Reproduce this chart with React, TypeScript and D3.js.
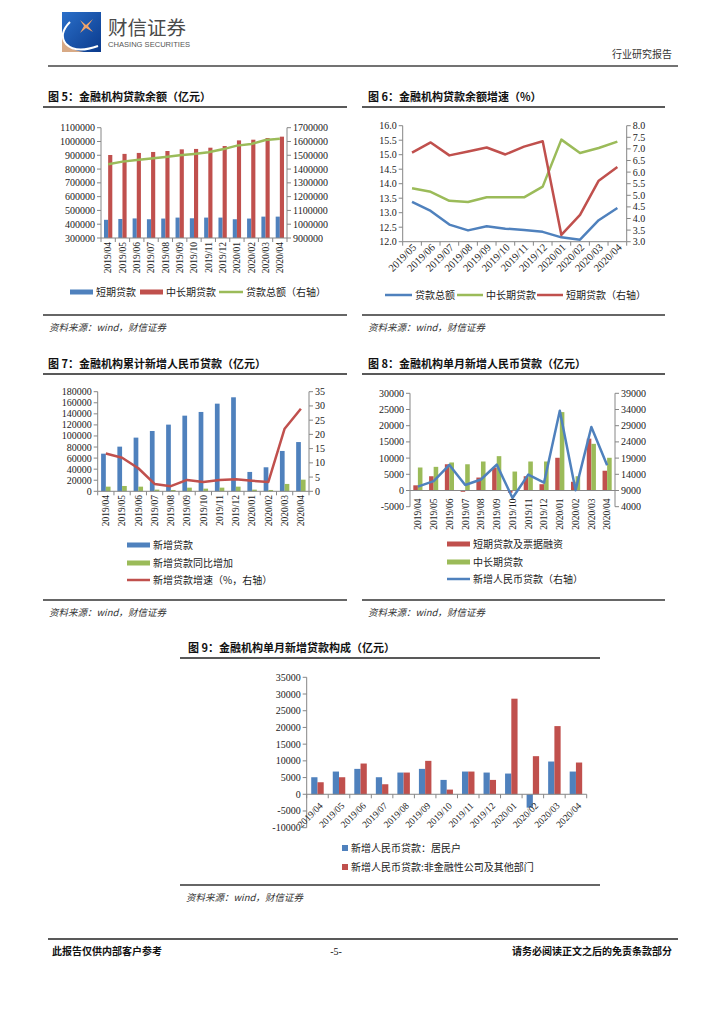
import React from 'react'
import * as d3 from 'd3'

const serif = '"Liberation Serif", "Times New Roman", serif'
const cjk = '"Noto Sans CJK SC", "Noto Sans", sans-serif'
const AXIS = '#868686'
const BLUE = '#4F81BD'
const RED = '#C0504D'
const GREEN = '#9BBB59'

// categories
const months13 = ['2019/04', '2019/05', '2019/06', '2019/07', '2019/08', '2019/09', '2019/10', '2019/11', '2019/12', '2020/01', '2020/02', '2020/03', '2020/04']
const months12 = ['2019/05', '2019/06', '2019/07', '2019/08', '2019/09', '2019/10', '2019/11', '2019/12', '2020/01', '2020/02', '2020/03', '2020/04']

// fig 5
const f5Short = [432000, 438000, 442000, 436000, 441000, 448000, 443000, 448000, 448000, 436000, 441000, 455000, 455000]
const f5Long = [902000, 910000, 917000, 924000, 931000, 943000, 946000, 955000, 967000, 1008000, 1013000, 1025000, 1035000]
const f5Total = [1435000, 1454000, 1466000, 1476000, 1488000, 1500000, 1510000, 1522000, 1543000, 1570000, 1582000, 1611000, 1620000]
const f5LeftTicks = [300000, 400000, 500000, 600000, 700000, 800000, 900000, 1000000, 1100000]
const f5RightTicks = [900000, 1000000, 1100000, 1200000, 1300000, 1400000, 1500000, 1600000, 1700000]

// fig 6
const f6Total = [13.37, 13.06, 12.59, 12.39, 12.53, 12.45, 12.4, 12.34, 12.15, 12.07, 12.74, 13.16]
const f6Long = [13.84, 13.72, 13.41, 13.37, 13.53, 13.53, 13.53, 13.9, 15.52, 15.06, 15.23, 15.45]
const f6Short = [6.84, 7.28, 6.72, 6.89, 7.06, 6.76, 7.1, 7.33, 3.29, 4.16, 5.63, 6.22]
const f6LeftTicks = [12, 12.5, 13, 13.5, 14, 14.5, 15, 15.5, 16]
const f6RightTicks = [3, 3.5, 4, 4.5, 5, 5.5, 6, 6.5, 7, 7.5, 8]

// fig 7
const f7New = [68000, 80700, 97000, 109000, 120500, 136700, 143400, 158400, 169900, 35000, 43400, 72900, 89000]
const f7YoY = [8400, 9600, 8400, 3000, 2400, 6600, 4800, 6600, 8400, 3000, 2400, 13300, 21000]
const f7Growth = [13.3, 11.8, 8.1, 2.6, 1.8, 4.0, 3.3, 4.0, 4.2, 3.7, 3.3, 22.0, 29.0]
const f7LeftTicks = [0, 20000, 40000, 60000, 80000, 100000, 120000, 140000, 160000, 180000]
const f7RightTicks = [0, 5, 10, 15, 20, 25, 30, 35]

// fig 8
const f8Short = [1600, 4400, 8100, -400, 4000, 7100, -700, 4400, 1950, 10100, 2700, 16000, 6100]
const f8Long = [7100, 7300, 8650, 8100, 8950, 10600, 5850, 8950, 8950, 24200, 4400, 14400, 10100]
const f8New = [10200, 11900, 16900, 10700, 12400, 17000, 6700, 13900, 11400, 33600, 9100, 28600, 16800]
const f8LeftTicks = [-5000, 0, 5000, 10000, 15000, 20000, 25000, 30000]
const f8RightTicks = [4000, 9000, 14000, 19000, 24000, 29000, 34000, 39000]

// fig 9
const f9House = [5100, 6800, 7600, 5100, 6500, 7600, 4300, 6800, 6500, 6200, -4000, 9800, 6800]
const f9Corp = [3600, 5100, 9200, 3000, 6500, 10000, 1400, 6800, 4300, 28600, 11400, 20400, 9500]
const f9Ticks = [-10000, -5000, 0, 5000, 10000, 15000, 20000, 25000, 30000, 35000]

type Lin = d3.ScaleLinear<number, number>

function YAxis({ scale, x, ticks, side, fmt }: { scale: Lin; x: number; ticks: number[]; side: 'left' | 'right'; fmt: (v: number) => string }) {
  const [y0, y1] = scale.range()
  const dir = side === 'left' ? -1 : 1
  return (
    <g>
      <line x1={x} x2={x} y1={y0} y2={y1} stroke={AXIS} />
      {ticks.map((t) => (
        <g key={t} transform={`translate(${x},${scale(t)})`}>
          <line x2={dir * 4} stroke={AXIS} />
          <text x={dir * 6} dy="0.35em" textAnchor={side === 'left' ? 'end' : 'start'} fontFamily={serif} fontSize={10} fill="#222">
            {fmt(t)}
          </text>
        </g>
      ))}
    </g>
  )
}

function XAxis({ scale, y, tickDown = 4 }: { scale: d3.ScaleBand<string>; y: number; tickDown?: number }) {
  const [x0, x1] = scale.range()
  const n = scale.domain().length
  return (
    <g>
      <line x1={x0} x2={x1} y1={y} y2={y} stroke={AXIS} />
      {d3.range(n + 1).map((i) => (
        <line key={i} x1={x0 + i * scale.step()} x2={x0 + i * scale.step()} y1={y} y2={y + tickDown} stroke={AXIS} />
      ))}
    </g>
  )
}

function VLabels({ scale, y }: { scale: d3.ScaleBand<string>; y: number }) {
  return (
    <g>
      {scale.domain().map((m) => (
        <text key={m} transform={`translate(${(scale(m) || 0) + scale.bandwidth() / 2},${y}) rotate(-90)`} dy="0.35em" textAnchor="end" fontFamily={serif} fontSize={9.5} fill="#222">
          {m}
        </text>
      ))}
    </g>
  )
}

function DLabels({ scale, y, dx, size = 9.5 }: { scale: d3.ScaleBand<string>; y: number; dx: number; size?: number }) {
  return (
    <g>
      {scale.domain().map((m) => (
        <text key={m} transform={`translate(${(scale(m) || 0) + scale.bandwidth() / 2 + dx},${y}) rotate(-45)`} textAnchor="end" fontFamily={serif} fontSize={size} fill="#222">
          {m}
        </text>
      ))}
    </g>
  )
}

function Bars({ x, y, values, idx, color, zero }: { x: d3.ScaleBand<string>; y: Lin; values: number[]; idx: number; color: string; zero: number }) {
  const cats = x.domain()
  const group = x.bandwidth() * 0.58
  const bw = group / 2
  return (
    <g>
      {values.map((v, i) => {
        const cx = (x(cats[i]) || 0) + x.bandwidth() / 2
        const y0 = y(zero)
        const y1 = y(v)
        return <rect key={i} x={cx - group / 2 + idx * bw} y={Math.min(y0, y1)} width={bw} height={Math.abs(y1 - y0)} fill={color} />
      })}
    </g>
  )
}

function Line({ x, y, values, color, w = 2.5 }: { x: d3.ScaleBand<string>; y: Lin; values: number[]; color: string; w?: number }) {
  const cats = x.domain()
  const gen = d3
    .line<number>()
    .x((_, i) => (x(cats[i]) || 0) + x.bandwidth() / 2)
    .y((v) => y(v))
  return <path d={gen(values) || ''} fill="none" stroke={color} strokeWidth={w} strokeLinejoin="round" />
}

function Title({ x, y, x1, x2, text }: { x: number; y: number; x1: number; x2: number; text: string }) {
  return (
    <g>
      <text x={x} y={y} fontFamily={cjk} fontWeight={700} fontSize={11} fill="#111">
        {text}
      </text>
      <line x1={x1} x2={x2} y1={y + 6} y2={y + 6} stroke="#222" strokeWidth={1.3} />
    </g>
  )
}

function Source({ x1, x2, y }: { x1: number; x2: number; y: number }) {
  return (
    <g>
      <line x1={x1} x2={x2} y1={y} y2={y} stroke="#333" strokeWidth={1.3} />
      <text x={x1 + 6} y={y + 16} fontFamily={cjk} fontStyle="italic" fontSize={9.5} fill="#333">
        资料来源：wind，财信证券
      </text>
    </g>
  )
}

function LegendItem({ x, y, color, kind, text, w = 23 }: { x: number; y: number; color: string; kind: 'rect' | 'line' | 'sq'; text: string; w?: number }) {
  return (
    <g>
      {kind === 'rect' && <rect x={x} y={y - 2.5} width={w} height={5} fill={color} />}
      {kind === 'line' && <line x1={x} x2={x + w} y1={y} y2={y} stroke={color} strokeWidth={2.5} />}
      {kind === 'sq' && <rect x={x} y={y - 3} width={6} height={6} fill={color} />}
      <text x={x + (kind === 'sq' ? 9 : w + 3)} y={y} dy="0.35em" fontFamily={cjk} fontSize={10} fill="#222">
        {text}
      </text>
    </g>
  )
}

const fmtInt = (v: number) => String(v)
const fmt1 = (v: number) => v.toFixed(1)

function Fig5() {
  const x = d3.scaleBand().domain(months13).range([101, 287])
  const yl = d3.scaleLinear().domain([300000, 1100000]).range([238, 127.7])
  const yr = d3.scaleLinear().domain([900000, 1700000]).range([238, 127.7])
  return (
    <g>
      <Title x={48} y={101} x1={43} x2={347} text="图 5：金融机构贷款余额（亿元）" />
      <Bars x={x} y={yl} values={f5Short} idx={0} color={BLUE} zero={300000} />
      <Bars x={x} y={yl} values={f5Long} idx={1} color={RED} zero={300000} />
      <Line x={x} y={yr} values={f5Total} color={GREEN} />
      <YAxis scale={yl} x={101} ticks={f5LeftTicks} side="left" fmt={fmtInt} />
      <YAxis scale={yr} x={287} ticks={f5RightTicks} side="right" fmt={fmtInt} />
      <XAxis scale={x} y={238} />
      <VLabels scale={x} y={242} />
      <LegendItem x={70} y={292} color={BLUE} kind="rect" text="短期贷款" />
      <LegendItem x={140} y={292} color={RED} kind="rect" text="中长期贷款" />
      <LegendItem x={219} y={292} color={GREEN} kind="line" text="贷款总额（右轴）" w={24} />
      <Source x1={43} x2={347} y={315} />
    </g>
  )
}

function Fig6() {
  const x = d3.scaleBand().domain(months12).range([402.7, 626.7])
  const yl = d3.scaleLinear().domain([12, 16]).range([241.7, 125.7])
  const yr = d3.scaleLinear().domain([3, 8]).range([241.7, 125.7])
  return (
    <g>
      <Title x={368} y={101} x1={362} x2={665} text="图 6：金融机构贷款余额增速（%）" />
      <Line x={x} y={yl} values={f6Total} color={BLUE} />
      <Line x={x} y={yl} values={f6Long} color={GREEN} />
      <Line x={x} y={yr} values={f6Short} color={RED} />
      <YAxis scale={yl} x={402.7} ticks={f6LeftTicks} side="left" fmt={fmt1} />
      <YAxis scale={yr} x={626.7} ticks={f6RightTicks} side="right" fmt={fmt1} />
      <XAxis scale={x} y={241.7} />
      <DLabels scale={x} y={248} dx={5} size={10.5} />
      <LegendItem x={385} y={295} color={BLUE} kind="line" text="贷款总额" w={27} />
      <LegendItem x={457} y={295} color={GREEN} kind="line" text="中长期贷款" w={26} />
      <LegendItem x={537} y={295} color={RED} kind="line" text="短期贷款（右轴）" w={26} />
      <Source x1={362} x2={665} y={315} />
    </g>
  )
}

function Fig7() {
  const x = d3.scaleBand().domain(months13).range([97.7, 309])
  const yl = d3.scaleLinear().domain([0, 180000]).range([491.3, 391.7])
  const yr = d3.scaleLinear().domain([0, 35]).range([491.3, 391.7])
  return (
    <g>
      <Title x={48} y={368} x1={43} x2={347} text="图 7：金融机构累计新增人民币贷款（亿元）" />
      <Bars x={x} y={yl} values={f7New} idx={0} color={BLUE} zero={0} />
      <Bars x={x} y={yl} values={f7YoY} idx={1} color={GREEN} zero={0} />
      <Line x={x} y={yr} values={f7Growth} color={RED} />
      <YAxis scale={yl} x={97.7} ticks={f7LeftTicks} side="left" fmt={fmtInt} />
      <YAxis scale={yr} x={309} ticks={f7RightTicks} side="right" fmt={fmtInt} />
      <XAxis scale={x} y={491.3} />
      <VLabels scale={x} y={495} />
      <LegendItem x={127} y={545} color={BLUE} kind="rect" text="新增贷款" />
      <LegendItem x={127} y={563} color={GREEN} kind="rect" text="新增贷款同比增加" />
      <LegendItem x={127} y={580} color={RED} kind="line" text="新增贷款增速（%，右轴）" />
      <Source x1={43} x2={347} y={600} />
    </g>
  )
}

function Fig8() {
  const x = d3.scaleBand().domain(months13).range([410, 615])
  const yl = d3.scaleLinear().domain([-5000, 30000]).range([506.7, 393.3])
  const yr = d3.scaleLinear().domain([4000, 39000]).range([506.7, 393.3])
  return (
    <g>
      <Title x={368} y={368} x1={362} x2={665} text="图 8：金融机构单月新增人民币贷款（亿元）" />
      <Bars x={x} y={yl} values={f8Short} idx={0} color={RED} zero={0} />
      <Bars x={x} y={yl} values={f8Long} idx={1} color={GREEN} zero={0} />
      <XAxis scale={x} y={yl(0)} tickDown={0} />
      <Line x={x} y={yr} values={f8New} color={BLUE} />
      <YAxis scale={yl} x={410} ticks={f8LeftTicks} side="left" fmt={fmtInt} />
      <YAxis scale={yr} x={615} ticks={f8RightTicks} side="right" fmt={fmtInt} />
      <VLabels scale={x} y={yl(0) + 8} />
      <LegendItem x={447} y={544} color={RED} kind="rect" text="短期贷款及票据融资" />
      <LegendItem x={447} y={562} color={GREEN} kind="rect" text="中长期贷款" />
      <LegendItem x={447} y={579} color={BLUE} kind="line" text="新增人民币贷款（右轴）" />
      <Source x1={362} x2={665} y={600} />
    </g>
  )
}

function Fig9() {
  const x = d3.scaleBand().domain(months13).range([306.7, 586.7])
  const y = d3.scaleLinear().domain([-10000, 35000]).range([827.7, 677.3])
  return (
    <g>
      <Title x={188} y={652} x1={180} x2={600} text="图 9：金融机构单月新增贷款构成（亿元）" />
      <Bars x={x} y={y} values={f9House} idx={0} color={BLUE} zero={0} />
      <Bars x={x} y={y} values={f9Corp} idx={1} color={RED} zero={0} />
      <YAxis scale={y} x={306.7} ticks={f9Ticks} side="left" fmt={fmtInt} />
      <XAxis scale={x} y={y(0)} tickDown={4} />
      <DLabels scale={x} y={y(0) + 12} dx={6} />
      <LegendItem x={342} y={848} color={BLUE} kind="sq" text="新增人民币贷款：居民户" />
      <LegendItem x={342} y={867} color={RED} kind="sq" text="新增人民币贷款:非金融性公司及其他部门" />
      <Source x1={180} x2={600} y={885} />
    </g>
  )
}

function Header() {
  return (
    <g>
      <defs>
        <linearGradient id="lg" x1="0" y1="0" x2="1" y2="1">
          <stop offset="0" stopColor="#2a6fc9" />
          <stop offset="1" stopColor="#0b3a8c" />
        </linearGradient>
      </defs>
      <rect x={62} y={12} width={39} height={40} fill="url(#lg)" />
      <path d="M62,36 Q66,50 84,52 L62,52 Z" fill="#d8aa86" />
      <path d="M70,22 Q58,34 66,44 Q76,54 98,46" fill="none" stroke="#fff" strokeWidth={2} />
      <path d="M80,20 L86,25 L93,19 L88,26 L93,32 L86,28 L80,33 L84,26 Z" fill="#f2a46a" />
      <text x={108} y={35} fontFamily={cjk} fontSize={19.5} fill="#4a4a4a">财信证券</text>
      <text x={108} y={46.5} fontFamily='"Liberation Sans", sans-serif' fontSize={6.6} fill="#555" textLength={82} lengthAdjust="spacingAndGlyphs">
        CHASING SECURITIES
      </text>
      <text x={672} y={58} textAnchor="end" fontFamily={cjk} fontSize={10} fill="#333">行业研究报告</text>
      <line x1={48} x2={678} y1={66} y2={66} stroke="#444" strokeWidth={1.5} />
    </g>
  )
}

function Footer() {
  return (
    <g>
      <line x1={48} x2={678} y1={939} y2={939} stroke="#222" strokeWidth={1.5} />
      <text x={52} y={955} fontFamily={cjk} fontWeight={700} fontSize={10} fill="#111">此报告仅供内部客户参考</text>
      <text x={336} y={955} textAnchor="middle" fontFamily={serif} fontSize={10} fill="#111">-5-</text>
      <text x={672} y={955} textAnchor="end" fontFamily={cjk} fontWeight={700} fontSize={10} fill="#111">请务必阅读正文之后的免责条款部分</text>
    </g>
  )
}

export default function App() {
  return (
    <svg width={724} height={1024} style={{ position: 'absolute', left: 0, top: 0, background: '#fff' }}>
      <rect width={724} height={1024} fill="#fff" />
      <Header />
      <Fig5 />
      <Fig6 />
      <Fig7 />
      <Fig8 />
      <Fig9 />
      <Footer />
    </svg>
  )
}
